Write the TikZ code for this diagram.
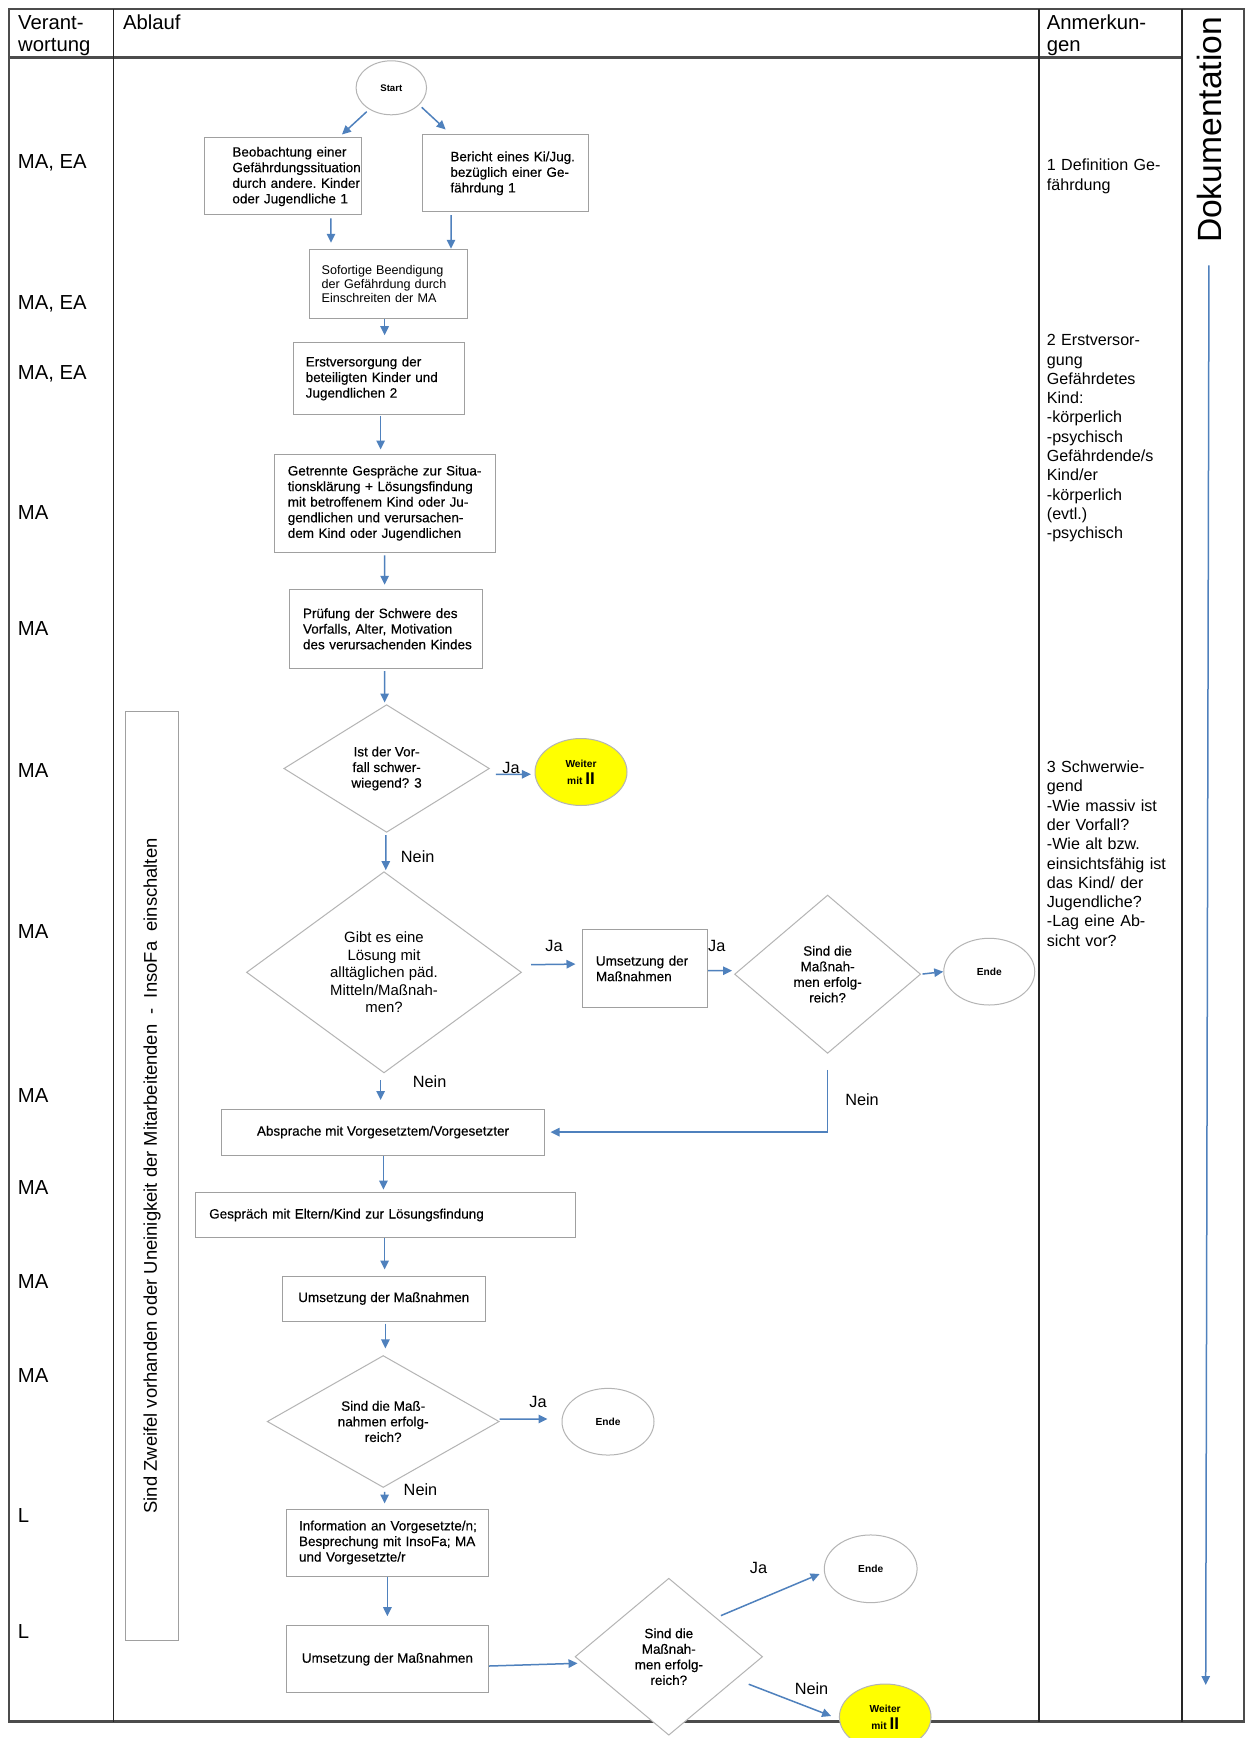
\documentclass[tikz,border=0pt]{standalone}
\usepackage{fontspec}
\setmainfont{Liberation Sans}
\newfontfamily\bxfont[FakeBold=0.3]{Liberation Sans}
\usetikzlibrary{shapes.geometric,arrows.meta}
\definecolor{arrowblue}{RGB}{79,129,189}
\definecolor{boxgray}{RGB}{160,160,160}
\definecolor{diagray}{RGB}{180,180,180}
\definecolor{tagyellow}{RGB}{255,255,0}
\begin{document}
\begin{tikzpicture}[x=0.5pt,y=-0.5pt,
  frame/.style={draw=black!70,line width=1.1pt},
  colline/.style={draw=black!85,line width=0.8pt},
  arr/.style={draw=arrowblue,line width=0.75pt,-{Triangle[length=4.5pt,width=4.2pt]}},
  box/.style={draw=boxgray,line width=0.5pt,fill=white,rectangle,inner sep=0pt,
     font={\bxfont\fontsize{6.75pt}{7.8pt}\selectfont},
     execute at begin node={\hyphenpenalty=10000\exhyphenpenalty=10000}},
  lbox/.style={box,align=left},
  cbox/.style={box,align=center},
  dia/.style={diamond,draw=diagray,line width=0.5pt,fill=white,inner sep=0pt,align=center,
     font={\bxfont\fontsize{6.75pt}{7.8pt}\selectfont}},
  oval/.style={ellipse,draw=diagray,line width=0.5pt,fill=white,inner sep=0pt,align=center,
     font={\bfseries\fontsize{5.1pt}{6pt}\selectfont}},
  goon/.style={oval,fill=tagyellow,font={\bfseries\fontsize{5.1pt}{8.5pt}\selectfont}},
  yn/.style={inner sep=0pt,font={\fontsize{8.15pt}{9pt}\selectfont}},
  role/.style={anchor=base west,inner sep=0pt,font={\fontsize{10.15pt}{11pt}\selectfont}},
  note/.style={anchor=base west,inner sep=0pt,text width=70pt,align=left,
     font={\fontsize{8.05pt}{9.65pt}\selectfont}},
]
\useasboundingbox (0,0) rectangle (1250,1738);
\fill[white] (0,0) rectangle (1250,1738);

% table
\draw[frame] (9,9) rectangle (1244,1721.5);
\draw[frame] (9,57.5) -- (1182,57.5);
\draw[colline] (113.5,9) -- (113.5,1721.5);
\draw[colline] (1039,9) -- (1039,1721.5);
\draw[colline] (1182,9) -- (1182,1721.5);

% headers
\node[role,text width=45pt,align=left] (hverant) at (17.8,29.8) {Verant-\\wortung};
\node[role] (hablauf) at (122.6,29.8) {Ablauf};
\node[role,text width=60pt,align=left] (hanm) at (1046.5,29.8) {Anmerkun-\\gen};
\node[rotate=90,inner sep=0pt,font={\fontsize{16.8pt}{18pt}\selectfont}] (dok) at (1209,130) {Dokumentation};
\coordinate (dokend) at (1205.7,1685);
\draw[arr,shorten <=11pt] (dok.west) -- (dokend);

% roles
\node[role] (r1) at (17.5,169) {MA, EA};
\node[role] (r2) at (17.5,309.7) {MA, EA};
\node[role] (r3) at (17.5,379.5) {MA, EA};
\node[role] (r4) at (17.5,519) {MA};
\node[role] (r5) at (17.5,635.2) {MA};
\node[role] (r6) at (17.5,777.2) {MA};
\node[role] (r7) at (17.5,938.9) {MA};
\node[role] (r8) at (17.5,1102.2) {MA};
\node[role] (r9) at (17.5,1194.7) {MA};
\node[role] (r10) at (17.5,1288.7) {MA};
\node[role] (r11) at (17.5,1382.2) {MA};
\node[role] (r12) at (17.5,1522.2) {L};
\node[role] (r13) at (17.5,1638.7) {L};

% notes
\node[note] (n1) at (1046.5,171) {1 Definition Ge-\\fährdung};
\node[note] (n2) at (1046.5,345.8) {2 Erstversor-\\gung\\Gefährdetes\\Kind:\\-körperlich\\-psychisch\\Gefährdende/s\\Kind/er\\-körperlich\\(evtl.)\\-psychisch};
\node[note] (n3) at (1046.5,772.5) {3 Schwerwie-\\gend\\-Wie massiv ist\\der Vorfall?\\-Wie alt bzw.\\einsichtsfähig ist\\das Kind/ der\\Jugendliche?\\-Lag eine Ab-\\sicht vor?};

% side box
\node[rotate=90,draw=boxgray,line width=0.5pt,inner sep=0pt,minimum width=464.15pt,minimum height=26.55pt,
  font={\fontsize{9.2pt}{10pt}\selectfont}] (zweifel) at (152.05,1175.85)
  {Sind Zweifel vorhanden oder Uneinigkeit der Mitarbeitenden\ \ -\ \ InsoFa\ \ einschalten};

% flow nodes
\node[oval,font={\bfseries\fontsize{4.8pt}{6pt}\selectfont},minimum width=35.25pt,minimum height=27pt] (start) at (391.3,87.8) {Start};
\node[lbox,minimum width=78.75pt,minimum height=38.5pt,text width=50.35pt] (beob) at (282.75,176.5)
  {Beobachtung~einer\\Gefährdungssituation\\durch~andere.~Kinder\\oder~Jugendliche~1};
\node[lbox,minimum width=82.75pt,minimum height=38.35pt,text width=54.85pt] (bericht) at (505.25,173.35)
  {Bericht~eines~Ki/Jug.\\bezüglich~einer~Ge-\\fährdung~1};
\node[lbox,minimum width=79pt,minimum height=34.5pt,text width=66.4pt,font={\fontsize{6.3pt}{7.1pt}\selectfont}] (sof) at (388,283.8)
  {Sofortige~Beendigung\\der~Gefährdung~durch\\Einschreiten~der~MA};
\node[lbox,minimum width=85.5pt,minimum height=35.8pt,text width=72.8pt] (erst) at (378.5,378.5)
  {Erstversorgung~der\\beteiligten~Kinder~und\\Jugendlichen~2};
\node[lbox,minimum width=110.5pt,minimum height=49.15pt,text width=96.7pt] (getr) at (384.5,503.15)
  {Getrennte~Gespräche~zur~Situa-\\tionsklärung~+~Lösungsfindung\\mit~betroffenem~Kind~oder~Ju-\\gendlichen~und~verursachen-\\dem~Kind~oder~Jugendlichen};
\node[lbox,minimum width=96.25pt,minimum height=39.5pt,text width=83.05pt] (pruef) at (386.05,628.8)
  {Prüfung~der~Schwere~des\\Vorfalls,~Alter,~Motivation\\des~verursachenden~Kindes};
\node[dia,minimum width=102.8pt,minimum height=63.85pt] (d1) at (386.6,768.5) {Ist der Vor-\\fall schwer-\\wiegend? 3};
\node[goon,minimum width=46pt,minimum height=33.5pt] (w1) at (581,772) {Weiter\\mit {\fontsize{8.5pt}{8.5pt}\selectfont II}};
\node[dia,minimum width=137.5pt,minimum height=100.6pt,font={\fontsize{7.45pt}{8.75pt}\selectfont}] (d2) at (384,972.3)
  {Gibt es eine\\Lösung mit\\alltäglichen päd.\\Mitteln/Maßnah-\\men?};
\node[lbox,minimum width=62.4pt,minimum height=39.2pt,text width=49.2pt] (umsA) at (645.1,968.5) {Umsetzung~der\\Maßnahmen};
\node[dia,minimum width=93.05pt,minimum height=79.15pt] (d3) at (827.6,974.2) {Sind die\\Maßnah-\\men erfolg-\\reich?};
\node[oval,minimum width=45.5pt,minimum height=33.35pt] (ende1) at (989.25,971.65) {Ende};
\node[cbox,minimum width=161.8pt,minimum height=22.85pt] (absp) at (383,1132.15) {Absprache mit Vorgesetztem/Vorgesetzter};
\node[lbox,minimum width=189.9pt,minimum height=22.3pt,text width=176pt] (gesp) at (385.2,1215) {Gespräch~mit~Eltern/Kind~zur~Lösungsfindung};
\node[cbox,minimum width=101.6pt,minimum height=22.5pt] (umsB) at (383.8,1298.5) {Umsetzung der Maßnahmen};
\node[dia,minimum width=116pt,minimum height=59.65pt] (d4) at (383.2,1421.5) {Sind die Maß-\\nahmen erfolg-\\reich?};
\node[oval,minimum width=46pt,minimum height=33.35pt] (ende2) at (608,1421.7) {Ende};
\node[lbox,minimum width=101.2pt,minimum height=33.5pt,text width=88.4pt] (info) at (387.4,1542.5)
  {Information~an~Vorgesetzte/n;\\Besprechung~mit~InsoFa;~MA\\und~Vorgesetzte/r};
\node[cbox,minimum width=101.2pt,minimum height=33.5pt] (umsC) at (387.4,1659.2) {Umsetzung der Maßnahmen};
\node[dia,minimum width=93.75pt,minimum height=78.5pt] (d5) at (668.8,1656.7) {Sind die\\Maßnah-\\men erfolg-\\reich?};
\node[oval,minimum width=46.4pt,minimum height=33.85pt] (ende3) at (870.7,1568.8) {Ende};
\node[goon,minimum width=45.8pt,minimum height=33pt] (w2) at (885.2,1717) {Weiter\\mit {\fontsize{8.5pt}{8.5pt}\selectfont II}};

% yes / no labels
\node[yn] (ja1) at (511,767.5) {Ja};
\node[yn] (nein1) at (417.7,856.7) {Nein};
\node[yn] (ja2) at (554,946) {Ja};
\node[yn] (ja3) at (716.7,946) {Ja};
\node[yn] (nein2) at (429.6,1081.7) {Nein};
\node[yn] (nein3) at (862,1100) {Nein};
\node[yn] (ja4) at (538,1401.7) {Ja};
\node[yn] (nein4) at (420.5,1490) {Nein};
\node[yn] (ja5) at (758.5,1568.3) {Ja};
\node[yn] (nein5) at (811.5,1688.3) {Nein};

% connectors
\draw[arr] ([xshift=-12.3pt,yshift=-11.95pt]start.center) -- ([xshift=29.6pt,yshift=1.5pt]beob.north);
\draw[arr] ([xshift=15.2pt,yshift=-9.75pt]start.center) -- ([xshift=-29.8pt,yshift=2.5pt]bericht.north);
\draw[arr,shorten <=1.5pt,shorten >=3pt] ([xshift=24.1pt]beob.south) -- ([xshift=-28.5pt]sof.north);
\draw[arr,shorten <=1.5pt] ([xshift=-27.1pt]bericht.south) -- ([xshift=31.5pt]sof.north);
\draw[arr,shorten >=3.5pt] ([xshift=-1.7pt]sof.south) -- ([xshift=3.05pt]erst.north);
\draw[arr,shorten <=0.5pt,shorten >=2pt] ([xshift=1.05pt]erst.south) -- ([xshift=-1.95pt]getr.north);
\draw[arr,shorten <=1.3pt,shorten >=2pt] (getr.south) -- ([xshift=-0.7pt]pruef.north);
\draw[arr,shorten <=1.2pt,shorten >=0.8pt] ([xshift=-0.7pt]pruef.south) -- ([xshift=-1pt]d1.north);
\draw[arr,shorten <=3pt,shorten >=1.8pt] ([yshift=-3pt]d1.east) -- ([yshift=-1.1pt]w1.west);
\draw[arr,shorten <=1.1pt,shorten >=0.5pt] ([xshift=-0.4pt]d1.south) -- ([xshift=0.9pt]d2.north);
\draw[arr,shorten <=4.5pt,shorten >=3.35pt] ([yshift=3.75pt]d2.east) -- ([yshift=2.25pt]umsA.west);
\draw[arr,shorten >=1pt] ([yshift=-1.1pt]umsA.east) -- ([yshift=1.75pt]d3.west);
\draw[arr,shorten <=0.7pt] (d3.east) -- (ende1.west);
\draw[arr,shorten <=8pt,shorten >=2.6pt] (d3.south) -- (d3.south |- absp.east) -- (absp.east);
\draw[arr,shorten <=3.4pt,shorten >=4.4pt] ([xshift=-1.7pt]d2.south) -- ([xshift=-1.2pt]absp.north);
\draw[arr,shorten >=1.3pt] ([xshift=0.2pt]absp.south) -- ([xshift=-0.9pt]gesp.north);
\draw[arr,shorten >=3pt] ([xshift=-0.3pt]gesp.south) -- ([xshift=0.4pt]umsB.north);
\draw[arr,shorten <=1.1pt,shorten >=3.3pt] ([xshift=0.8pt]umsB.south) -- ([xshift=1.1pt]d4.north);
\draw[arr,shorten >=7pt] ([yshift=1.25pt]d4.east) -- ([yshift=1.35pt]ende2.west);
\draw[arr,shorten <=2pt,shorten >=2.5pt] ([xshift=0.7pt]d4.south) -- ([xshift=-1.4pt]info.north);
\draw[arr,shorten >=4.5pt] (info.south) -- (umsC.north);
\draw[arr] ([yshift=-3.4pt]umsC.east) -- ([xshift=1.5pt,yshift=-3.3pt]d5.west);
\draw[arr] ([xshift=2.5pt,yshift=0.8pt]d5.north east) -- ([xshift=-2.1pt,yshift=-2.6pt]ende3.west);
\draw[arr] ([xshift=16.4pt,yshift=6pt]d5.south east) -- ([xshift=-3.9pt,yshift=0.5pt]w2.west);
\end{tikzpicture}
\end{document}
